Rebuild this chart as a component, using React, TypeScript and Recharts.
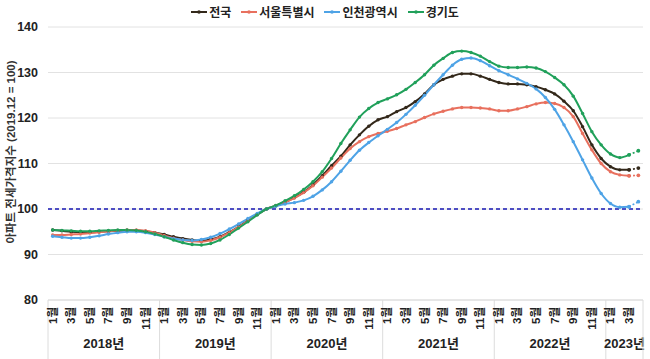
import { CartesianGrid, Line, LineChart, ReferenceLine, XAxis, YAxis } from 'recharts'

const W = 650
const H = 359
const PLOT_LEFT = 48
const PLOT_RIGHT = 7
const AXIS_Y = 300
const BAND = (W - PLOT_LEFT - PLOT_RIGHT) / 64

const years = [2018, 2019, 2020, 2021, 2022, 2023]
const monthsInYear = [12, 12, 12, 12, 12, 4]
const yTicks = [80, 90, 100, 110, 120, 130, 140]

// 2018.01 ~ 2023.04 (last month is preliminary, drawn dotted)
const national = [
  95.4, 95.2, 95.0, 94.9, 94.9, 95.0, 95.1, 95.2, 95.3, 95.3, 95.1, 94.8,
  94.4, 93.9, 93.5, 93.2, 93.0, 93.3, 93.9, 94.9, 96.1, 97.5, 98.8, 100.0,
  100.7, 101.5, 102.5, 103.7, 105.3, 107.3, 109.5, 111.6, 114.1, 116.3, 118.2, 119.6,
  120.3, 121.4, 122.3, 123.6, 125.3, 127.3, 128.5, 129.2, 129.7, 129.7, 129.2, 128.5,
  127.8, 127.5, 127.5, 127.3, 126.9, 126.2, 125.3, 123.7, 121.6, 118.1, 114.1, 111.1,
  109.3, 108.6, 108.6, 109.0,
]
const seoul = [
  94.3, 94.3, 94.4, 94.5, 94.7, 94.9, 95.1, 95.3, 95.4, 95.4, 95.2, 94.8,
  94.2, 93.6, 93.2, 92.9, 92.8, 93.1, 93.8, 94.8, 96.0, 97.4, 98.8, 100.0,
  100.7, 101.5, 102.4, 103.6, 105.1, 107.0, 109.0, 111.2, 113.3, 114.8, 115.9, 116.6,
  117.1, 117.7, 118.5, 119.2, 120.1, 120.9, 121.5, 122.0, 122.3, 122.3, 122.2, 122.0,
  121.6, 121.6, 122.0, 122.5, 123.1, 123.4, 123.2, 122.3, 120.3, 116.6, 113.0, 110.0,
  108.2, 107.5, 107.3, 107.4,
]
const incheon = [
  94.0, 93.8, 93.6, 93.6, 93.8, 94.1, 94.5, 94.8, 95.0, 95.0, 94.8, 94.4,
  93.9, 93.5, 93.2, 93.1, 93.3, 93.8, 94.6, 95.6, 96.7, 97.9, 99.0, 100.0,
  100.6, 101.1, 101.4, 101.9, 102.8, 104.2, 106.0, 108.3, 110.7, 112.9, 114.6, 116.1,
  117.5, 119.0, 120.8, 122.8, 125.0, 127.3, 129.5, 131.6, 132.9, 133.2, 132.6, 131.5,
  130.4, 129.5, 128.6, 127.6, 126.4, 124.5, 121.9, 118.5, 114.8, 110.8, 106.8, 103.4,
  101.2, 100.4, 100.5, 101.6,
]
const gyeonggi = [
  95.4, 95.3, 95.2, 95.1, 95.1, 95.2, 95.3, 95.4, 95.4, 95.3, 95.0, 94.5,
  93.9, 93.2, 92.6, 92.2, 92.1, 92.4, 93.2, 94.4, 95.8, 97.2, 98.7, 100.0,
  100.8, 101.8, 102.9, 104.3, 106.0, 108.2, 111.1, 114.4, 117.4, 120.2, 122.1, 123.4,
  124.2, 125.1, 126.3, 127.8, 129.5, 131.6, 133.1, 134.4, 134.7, 134.4, 133.6, 132.4,
  131.4, 131.1, 131.1, 131.2, 131.0, 130.2, 128.9, 127.3, 124.8, 121.0, 117.0, 114.1,
  112.1, 111.3, 111.9, 112.8,
]

const series = [
  { key: 'national', name: '전국', color: '#33281a', values: national },
  { key: 'seoul', name: '서울특별시', color: '#e8705e', values: seoul },
  { key: 'incheon', name: '인천광역시', color: '#4ea3e6', values: incheon },
  { key: 'gyeonggi', name: '경기도', color: '#20a05a', values: gyeonggi },
]

const periods: { year: number; month: number; yearIdx: number }[] = []
years.forEach((year, yi) => {
  for (let m = 1; m <= monthsInYear[yi]; m++) periods.push({ year, month: m, yearIdx: yi })
})

const LAST = periods.length - 1
const data = periods.map((p, i) => {
  const row: any = { idx: i }
  series.forEach((s) => {
    row[s.key] = i < LAST ? s.values[i] : null
    row[s.key + '_p'] = i >= LAST - 1 ? s.values[i] : null
  })
  return row
})

const FONT = '"Liberation Sans", "Noto Sans CJK KR", sans-serif'

function MonthTick(props: any) {
  const { x, payload } = props
  const p = periods[payload.value]
  if (!p) return null
  const left = x - BAND / 2
  return (
    <g>
      {p.month === 1 && (
        <>
          <line x1={left} x2={left} y1={AXIS_Y} y2={H} stroke="#dcdcdc" />
          <text
            x={left + (monthsInYear[p.yearIdx] * BAND) / 2}
            y={348}
            textAnchor="middle"
            fontFamily={FONT}
            fontWeight={700}
            fontSize={13}
            fill="#222"
          >
            {p.year}년
          </text>
        </>
      )}
      {payload.value === LAST && <line x1={x + BAND / 2} x2={x + BAND / 2} y1={AXIS_Y} y2={H} stroke="#dcdcdc" />}
      {p.month % 2 === 1 && (
        <text
          x={x}
          y={307}
          transform={`rotate(-90, ${x}, 307)`}
          textAnchor="end"
          dominantBaseline="central"
          fontFamily={FONT}
          fontWeight={700}
          fontSize={11.5}
          fill="#222"
        >
          {p.month}월
        </text>
      )}
    </g>
  )
}

export default function App() {
  return (
    <div style={{ position: 'absolute', left: 0, top: 0, width: W, height: H, background: '#fff' }}>
      <div
        style={{
          position: 'absolute',
          top: 3,
          left: 0,
          width: W,
          display: 'flex',
          justifyContent: 'center',
          gap: 10,
          fontFamily: FONT,
          fontWeight: 700,
          fontSize: 12,
          color: '#222',
          zIndex: 2,
        }}
      >
        {series.map((s) => (
          <div key={s.key} style={{ display: 'flex', alignItems: 'center', gap: 2 }}>
            <svg width={16} height={10}>
              <line x1={0} x2={16} y1={5} y2={5} stroke={s.color} strokeWidth={2} />
              <circle cx={8} cy={5} r={1.8} fill={s.color} />
            </svg>
            <span>{s.name}</span>
          </div>
        ))}
      </div>
      <LineChart width={W} height={H} data={data} margin={{ top: 27, right: PLOT_RIGHT, bottom: 0, left: 0 }}>
        <CartesianGrid vertical={false} stroke="#e2e2e2" />
        <XAxis
          dataKey="idx"
          type="category"
          interval={0}
          height={H - AXIS_Y}
          padding={{ left: BAND / 2, right: BAND / 2 }}
          tickLine={false}
          axisLine={{ stroke: '#dcdcdc' }}
          tick={<MonthTick />}
        />
        <YAxis
          width={PLOT_LEFT}
          domain={[80, 140]}
          ticks={yTicks}
          axisLine={false}
          tickLine={false}
          tickMargin={4}
          tick={{ fill: '#222', fontSize: 12.5, fontWeight: 700, fontFamily: FONT }}
          label={{
            content: () => (
              <text
                transform="rotate(-90)"
                x={-152}
                y={11}
                textAnchor="middle"
                dominantBaseline="central"
                fontFamily={FONT}
                fontWeight={700}
                fontSize={11.5}
                fill="#333"
              >
                아파트 전세가격지수 (2019.12 = 100)
              </text>
            ),
          }}
        />
        <ReferenceLine y={100} stroke="#1818b4" strokeDasharray="4 3" strokeWidth={1.3} />
        {series.map((s) => (
          <Line
            key={s.key}
            dataKey={s.key}
            name={s.name}
            type="monotone"
            stroke={s.color}
            strokeWidth={2}
            dot={{ r: 1.7, fill: s.color, stroke: s.color, strokeWidth: 0 }}
            isAnimationActive={false}
          />
        ))}
        {series.map((s) => (
          <Line
            key={s.key + '_p'}
            dataKey={s.key + '_p'}
            legendType="none"
            type="linear"
            stroke={s.color}
            strokeWidth={1.6}
            strokeDasharray="2 2"
            dot={{ r: 1.9, fill: s.color, stroke: s.color, strokeWidth: 0 }}
            isAnimationActive={false}
          />
        ))}
      </LineChart>
    </div>
  )
}
